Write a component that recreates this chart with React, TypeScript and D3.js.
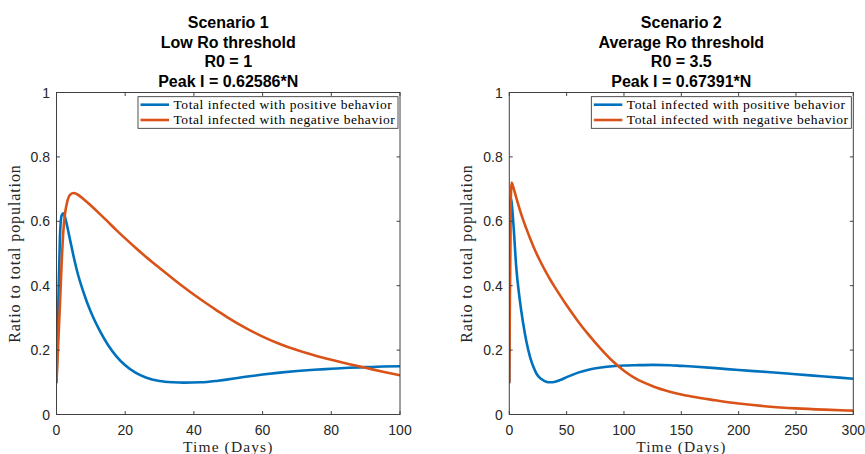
import React from 'react';
import * as d3 from 'd3';

// ---------- data ----------
const t1 = [0, 0.5, 1, 1.5, 2, 2.5, 3, 4, 5, 6, 8, 10, 12.5, 15, 17.5, 20, 23, 26, 30, 34, 37, 42, 47, 50, 55, 60, 65, 70, 75, 80, 85, 90, 95, 100];
const pos1 = [0.1, 0.33, 0.55, 0.618, 0.625, 0.612, 0.59, 0.54, 0.49, 0.445, 0.375, 0.318, 0.262, 0.216, 0.18, 0.153, 0.13, 0.115, 0.104, 0.1, 0.099, 0.1, 0.105, 0.109, 0.117, 0.124, 0.13, 0.135, 0.139, 0.142, 0.145, 0.147, 0.149, 0.15];
const neg1 = [0.1, 0.22, 0.34, 0.47, 0.57, 0.625, 0.655, 0.683, 0.688, 0.684, 0.668, 0.649, 0.624, 0.598, 0.572, 0.547, 0.518, 0.49, 0.455, 0.421, 0.396, 0.357, 0.321, 0.3, 0.269, 0.242, 0.219, 0.2, 0.184, 0.17, 0.157, 0.145, 0.133, 0.122];

const t2 = [0, 0.5, 1, 2, 3, 4, 6, 9, 12, 15, 18, 21, 24, 28, 32, 36, 40, 45, 50, 60, 70, 80, 90, 100, 110, 125, 140, 150, 160, 180, 200, 225, 250, 275, 300];
const pos2 = [0.1, 0.45, 0.674, 0.66, 0.62, 0.57, 0.46, 0.36, 0.285, 0.225, 0.18, 0.148, 0.125, 0.11, 0.102, 0.1, 0.102, 0.108, 0.116, 0.13, 0.14, 0.146, 0.15, 0.152, 0.153, 0.154, 0.153, 0.151, 0.149, 0.144, 0.138, 0.132, 0.125, 0.118, 0.111];
const neg2 = [0.1, 0.35, 0.6, 0.72, 0.712, 0.7, 0.674, 0.638, 0.605, 0.576, 0.548, 0.522, 0.498, 0.469, 0.442, 0.417, 0.394, 0.366, 0.339, 0.289, 0.244, 0.203, 0.166, 0.136, 0.112, 0.088, 0.071, 0.062, 0.055, 0.044, 0.034, 0.025, 0.019, 0.015, 0.012];

const xTicks1 = [0, 20, 40, 60, 80, 100];
const xTicks2 = [0, 50, 100, 150, 200, 250, 300];
const yTicks = [0, 0.2, 0.4, 0.6, 0.8, 1];

const titles1 = ['Scenario 1', 'Low Ro threshold', 'R0 = 1', 'Peak I = 0.62586*N'];
const titles2 = ['Scenario 2', 'Average Ro threshold', 'R0 = 3.5', 'Peak I = 0.67391*N'];
const legendLabels = ['Total infected with positive behavior', 'Total infected with negative behavior'];
const seriesColors = ['#0072BD', '#D95319'];

const xLabel = 'Time (Days)';
const yLabel = 'Ratio to total population';

// ---------- panel ----------
const AX = '#404040';
const SANS = 'Arial, "Liberation Sans", Helvetica, sans-serif';
const SERIF = '"Liberation Serif", "Times New Roman", serif';

function Panel(props: {
  left: number; right: number; top: number; bottom: number;
  xMax: number; xTicks: number[]; t: number[]; pos: number[]; neg: number[];
  titles: string[];
}) {
  const { left, right, top, bottom, xMax, xTicks, t, pos, neg, titles } = props;
  const x = d3.scaleLinear().domain([0, xMax]).range([left, right]);
  const y = d3.scaleLinear().domain([0, 1]).range([bottom, top]);
  const line = d3.line<[number, number]>().x(d => x(d[0])).y(d => y(d[1])).curve(d3.curveMonotoneX);
  const series = [pos, neg].map(vals => t.map((tt, i) => [tt, vals[i]] as [number, number]));
  const tl = 3.4;
  const cx = (left + right) / 2;
  const lgRight = right - 2;
  const lgLeft = lgRight - 260;
  const lgTop = 96.7;
  const lgBottom = 128.3;
  const rows = [104.7, 120];
  return (
    <g>
      {titles.map((s, i) => (
        <text key={i} x={cx} y={28.3 + i * 19.5} textAnchor="middle" fontFamily={SANS} fontWeight="bold" fontSize={16} fill="#000">{s}</text>
      ))}
      <clipPath id={`clip${Math.round(left)}`}>
        <rect x={left} y={top} width={right - left} height={bottom - top} />
      </clipPath>
      <g clipPath={`url(#clip${Math.round(left)})`}>
        {series.map((d, i) => (
          <path key={i} d={line(d) || ''} fill="none" stroke={seriesColors[i]} strokeWidth={2.6} strokeLinejoin="round" strokeLinecap="round" />
        ))}
      </g>
      <rect x={left} y={top} width={right - left} height={bottom - top} fill="none" stroke={AX} strokeWidth={1} />
      {xTicks.map(v => (
        <g key={'x' + v}>
          <line x1={x(v)} x2={x(v)} y1={bottom} y2={bottom - tl} stroke={AX} />
          <line x1={x(v)} x2={x(v)} y1={top} y2={top + tl} stroke={AX} />
          <text x={x(v)} y={434.5} textAnchor="middle" fontFamily={SANS} fontSize={14} fill="#262626">{v}</text>
        </g>
      ))}
      {yTicks.map(v => (
        <g key={'y' + v}>
          <line x1={left} x2={left + tl} y1={y(v)} y2={y(v)} stroke={AX} />
          <line x1={right} x2={right - tl} y1={y(v)} y2={y(v)} stroke={AX} />
          <text x={left - 6.5} y={y(v) + 5} textAnchor="end" fontFamily={SANS} fontSize={14} fill="#262626">{String(v)}</text>
        </g>
      ))}
      <text x={cx} y={451.5} textAnchor="middle" fontFamily={SERIF} fontSize={15.5} letterSpacing={1.1} fill="#262626">{xLabel}</text>
      <text transform={`translate(${left - 37},${(top + bottom) / 2}) rotate(-90)`} textAnchor="middle" fontFamily={SERIF} fontSize={16} letterSpacing={0.9} fill="#262626">{yLabel}</text>
      <rect x={lgLeft} y={lgTop} width={lgRight - lgLeft} height={lgBottom - lgTop} fill="#fff" stroke="#262626" strokeWidth={0.8} />
      {legendLabels.map((s, i) => (
        <g key={s}>
          <line x1={lgLeft + 2.5} x2={lgLeft + 31} y1={rows[i]} y2={rows[i]} stroke={seriesColors[i]} strokeWidth={2.6} />
          <text x={lgLeft + 35.5} y={rows[i] + 4.3} fontFamily={SERIF} fontSize={13.5} letterSpacing={0.55} fill="#000">{s}</text>
        </g>
      ))}
    </g>
  );
}

export default function App() {
  return (
    <svg width={865} height={454} style={{ position: 'fixed', left: 0, top: 0, background: '#fff' }}>
      <rect width={865} height={454} fill="#fff" />
      <Panel left={56.5} right={400} top={92.5} bottom={414.5} xMax={100} xTicks={xTicks1} t={t1} pos={pos1} neg={neg1} titles={titles1} />
      <Panel left={509.3} right={853.3} top={92.5} bottom={414.5} xMax={300} xTicks={xTicks2} t={t2} pos={pos2} neg={neg2} titles={titles2} />
    </svg>
  );
}
